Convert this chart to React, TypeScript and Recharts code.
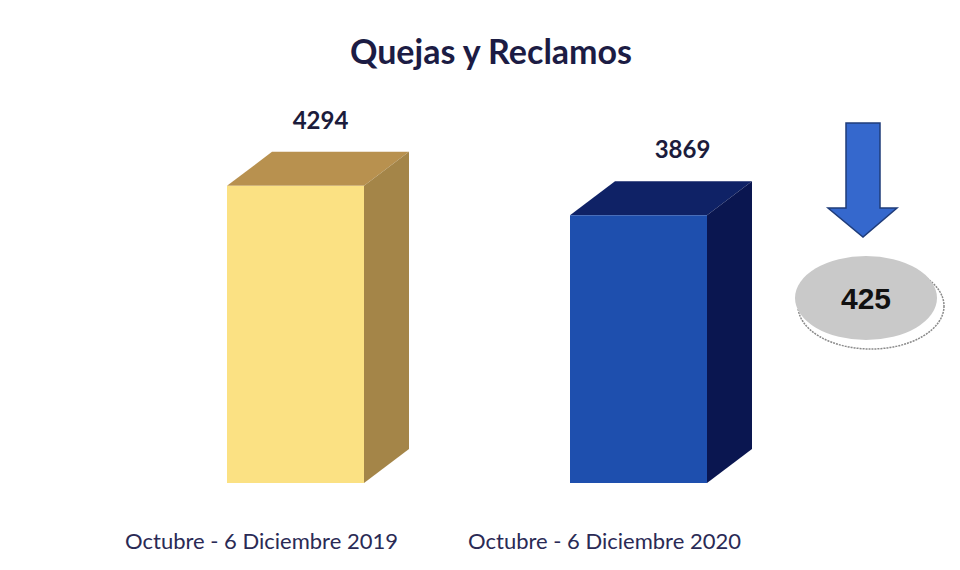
import { BarChart, Bar, XAxis, YAxis, Cell, LabelList } from 'recharts'

const periods = ['Octubre - 6 Diciembre 2019', 'Octubre - 6 Diciembre 2020']
const quejas = [4294, 3869]

const data = periods.map((p, i) => ({ periodo: p, quejas: quejas[i] }))
const diferencia = quejas[0] - quejas[1]

const faces = [
  { front: '#FBE183', top: '#B8914F', side: '#A48548' },
  { front: '#1E4FAE', top: '#0F2266', side: '#0A1650' },
]
const labelShift = [25, 44]

const DX = 45
const DY = 34

function Bar3D(props: any) {
  const { x, y, width, height, index } = props
  const c = faces[index] || faces[0]
  const top = `${x},${y} ${x + DX},${y - DY} ${x + width + DX},${y - DY} ${x + width},${y}`
  const side = `${x + width},${y} ${x + width + DX},${y - DY} ${x + width + DX},${y + height - DY} ${x + width},${y + height}`
  return (
    <g>
      <polygon points={top} fill={c.top} />
      <polygon points={side} fill={c.side} />
      <rect x={x} y={y} width={width} height={height} fill={c.front} />
    </g>
  )
}

function ValueLabel(props: any) {
  const { x, y, width, value, index } = props
  return (
    <text
      x={x + width / 2 + (labelShift[index] ?? 30)}
      y={y - 57}
      textAnchor="middle"
      fill="#1C1C3C"
      fontFamily="Lato, 'Open Sans', sans-serif"
      fontWeight="bold"
      fontSize={24}
    >
      {value}
    </text>
  )
}

function PeriodTick(props: any) {
  const { x, y, payload } = props
  return (
    <text
      x={x - 34}
      y={y + 58}
      textAnchor="middle"
      fill="#2A2A55"
      fontFamily="Lato, 'Open Sans', sans-serif"
      fontSize={22}
    >
      {payload.value}
    </text>
  )
}

export default function App() {
  return (
    <div style={{ position: 'absolute', left: 0, top: 0, width: 960, height: 570, background: '#fff' }}>
      <div
        style={{
          position: 'absolute',
          left: 0,
          width: 982,
          top: 30,
          textAlign: 'center',
          fontFamily: "Lato, 'Open Sans', sans-serif",
          fontWeight: 'bold',
          fontSize: 34,
          color: '#1C1C44',
        }}
      >
        Quejas y Reclamos
      </div>
      <BarChart width={960} height={570} data={data} margin={{ top: 137, right: 150, bottom: 7, left: 124 }}>
        <XAxis dataKey="periodo" axisLine={false} tickLine={false} tick={<PeriodTick />} height={80} interval={0} />
        <YAxis hide domain={[0, 5000]} width={0} />
        <Bar dataKey="quejas" barSize={137} shape={<Bar3D />} isAnimationActive={false}>
          {data.map((_, i) => (
            <Cell key={i} fill={faces[i].front} />
          ))}
          <LabelList dataKey="quejas" content={<ValueLabel />} />
        </Bar>
      </BarChart>
      <svg width={960} height={570} style={{ position: 'absolute', left: 0, top: 0, pointerEvents: 'none' }}>
        <polygon
          points="846,123 880,123 880,208 897,208 863,237 828,208 846,208"
          fill="#3568CD"
          stroke="#1F3C7A"
          strokeWidth={1.5}
        />
        <ellipse cx={871} cy={306} rx={73} ry={43} fill="#fff" stroke="#8a8a8a" strokeWidth={1.5} strokeDasharray="2 1" />
        <ellipse cx={866} cy={298} rx={71} ry={42} fill="#C9C9C9" />
        <text
          x={866}
          y={309}
          textAnchor="middle"
          fontFamily="'Liberation Sans', Arial, sans-serif"
          fontWeight="bold"
          fontSize={30}
          fill="#111"
        >
          {diferencia}
        </text>
      </svg>
    </div>
  )
}
